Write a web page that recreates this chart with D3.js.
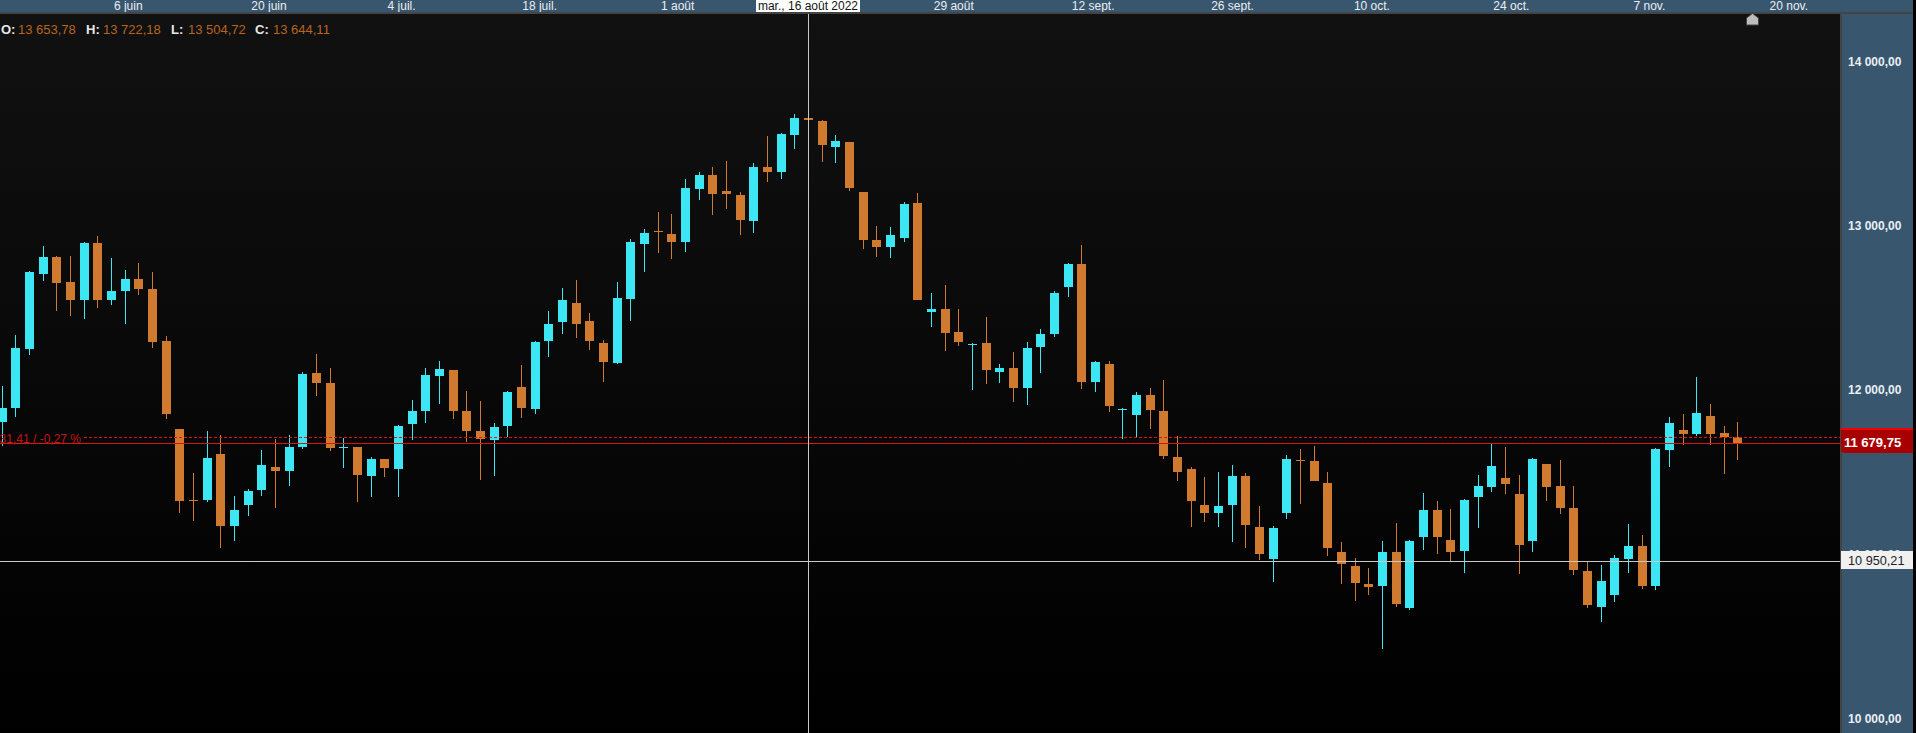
<!DOCTYPE html>
<html>
<head>
<meta charset="utf-8">
<script src="https://cdn.jsdelivr.net/npm/d3@7"></script>
<style>
  html, body { margin: 0; padding: 0; background: #000; overflow: hidden; }
  svg { display: block; }
  text { font-family: "Liberation Sans", Arial, sans-serif; font-size: 12px; }
</style>
</head>
<body>
<div id="chart"></div>
<script>
// daily candles
var opens = [11805,11890,12250,12706,12810,12658,12548,12895,12548,12603,12676,12615,12298,11763,11330,11330,11610,11172,11300,11391,11531,11507,11653,12104,12043,11647,11653,11476,11580,11519,
  11793,11872,12085,12122,11872,11750,11696,11781,12018,11884,12298,12414,12530,12420,12286,12164,12554,12889,12968,12950,12901,13224,13309,13212,13187,13029,13358,13327,13552,13653.78,
  13638,13479,13510,13205,12913,12871,12925,13138,12475,12493,12353,12274,12286,12110,12134,12012,12262,12341,12627,12767,12049,12158,11878,11848,11970,11872,11592,11519,11300,11251,
  11300,11476,11166,10971,11251,11574,11568,11434,11014,10928,10819,10807,11014,10673,11105,11269,11087,11020,11349,11409,11464,11367,11081,11549,11416,11282,10898,10679,10752,10971,
  11050,10807,11635,11756,11732,11842,11738,11711.16];
var highs = [12024,12335,12725,12877,12816,12816,12901,12938,12804,12731,12773,12718,12329,11763,11495,11750,11726,11355,11397,11635,11702,11726,12110,12219,12134,11708,11653,11592,11580,11787,
  11939,12134,12177,12122,11994,11933,11799,11994,12152,12298,12481,12621,12670,12469,12304,12658,12919,12980,13084,13072,13285,13327,13358,13394,13205,13382,13546,13565,13680,13722.18,
  13644,13552,13510,13205,12998,12992,13145,13199,12591,12639,12493,12286,12444,12158,12231,12292,12371,12603,12773,12883,12177,12177,11890,11988,12012,12061,11720,11531,11470,11501,
  11543,11495,11294,11172,11604,11641,11659,11501,11075,10977,10916,11081,11190,11087,11373,11324,11275,11336,11482,11671,11653,11482,11586,11549,11574,11416,10959,10935,10995,11184,
  11117,11647,11836,11854,12079,11915,11781,11805];
var lows = [11659,11836,12213,12664,12481,12451,12432,12499,12518,12402,12578,12256,11823,11251,11202,11318,11038,11081,11233,11355,11282,11416,11641,11963,11629,11525,11318,11349,11470,11349,
  11696,11799,11915,11823,11683,11452,11476,11714,11829,11854,12201,12341,12317,12243,12049,12158,12420,12718,12834,12798,12840,13157,13065,13102,12944,12956,13266,13285,13467,13504.72,
  13388,13382,13212,12858,12810,12804,12901,12548,12384,12237,12268,12000,12037,12043,11927,11909,12104,12323,12566,12006,11988,11866,11702,11714,11763,11580,11446,11166,11196,11166,
  11075,11038,10965,10831,11215,11306,11446,10989,10819,10715,10752,10423,10679,10661,11026,11001,10953,10886,11160,11379,11367,10880,11014,11324,11245,10874,10673,10588,10709,10886,
  10788,10782,11531,11665,11720,11665,11489,11574];
var closes = [11890,12256,12718,12810,12651,12548,12895,12548,12603,12676,12615,12292,11854,11324,11324,11586,11172,11269,11385,11543,11507,11653,12097,12043,11647,11653,11483,11580,11525,11781,
  11872,12091,12128,11872,11750,11702,11775,11988,11890,12292,12402,12548,12402,12298,12170,12560,12901,12956,12962,12901,13230,13309,13193,13193,13035,13358,13327,13559,13656,13644.11,
  13492,13516,13230,12913,12871,12944,13132,12548,12493,12347,12292,12280,12122,12134,12012,12256,12341,12591,12767,12049,12171,11903,11884,11970,11878,11598,11501,11324,11251,11294,
  11476,11178,11001,11160,11580,11568,11446,11038,10941,10825,10801,11014,10697,11081,11269,11105,11014,11330,11415,11537,11428,11056,11580,11409,11282,10904,10691,10837,10977,11050,
  10807,11641,11799,11732,11860,11732,11711.16,11679.75];

var priceTicks = [10000, 11000, 12000, 13000, 14000];
var dateTicks = [9.2, 19.5, 29.2, 39.3, 49.4, 69.6, 79.8, 90, 100.2, 110.4, 120.5, 130.7];
var dateLabels = ["6 juin", "20 juin", "4 juil.", "18 juil.", "1 août", "29 août", "12 sept.", "26 sept.", "10 oct.", "24 oct.", "7 nov.", "20 nov."];
var ohlcLabels = ["O:", "H:", "L:", "C:"];
var ohlcValues = ["13 653,78", "13 722,18", "13 504,72", "13 644,11"];

var lastPrice = 11679.75;
var prevClose = 11711.16;
var crossIndex = 59;
var crossPrice = 10950.21;
var crossDate = "mar., 16 août 2022";
var changeLabel = "-31,41 / -0,27 %";

var width = 1916, height = 733;
var plotRight = 1840, panelRight = 1913, topBar = 12;

var upColor = "#3de6f3", downColor = "#d07a2f";

// french style numbers, 14 000,00
function fmtPrice(v) {
  return d3.format(",.2f")(v).replace(/,/g, " ").replace(".", ",");
}

var x = d3.scaleLinear().domain([0, 127]).range([2.01, 1737.7]);
var y = d3.scaleLinear().domain([10000, 14000]).range([718.5, 61.5]);

var svg = d3.select("#chart").append("svg")
  .attr("width", width)
  .attr("height", height);

var grad = svg.append("defs").append("linearGradient")
  .attr("id", "bg").attr("x1", 0).attr("y1", 0).attr("x2", 0).attr("y2", 1);
grad.append("stop").attr("offset", "0%").attr("stop-color", "#111111");
grad.append("stop").attr("offset", "100%").attr("stop-color", "#000000");

svg.append("rect")
  .attr("x", 0).attr("y", topBar)
  .attr("width", plotRight).attr("height", height - topBar)
  .attr("fill", "url(#bg)");

var plot = svg.append("g");

var idx = d3.range(opens.length);
var candles = plot.selectAll("g.candle").data(idx).enter().append("g").attr("class", "candle");

function colorOf(i) {
  return closes[i] >= opens[i] ? upColor : downColor;
}

candles.append("rect")
  .attr("x", function (i) { return Math.floor(x(i)); })
  .attr("y", function (i) { return Math.round(y(highs[i])); })
  .attr("width", 1)
  .attr("height", function (i) { return Math.max(1, Math.round(y(lows[i])) - Math.round(y(highs[i]))); })
  .attr("fill", colorOf);

candles.append("rect")
  .attr("x", function (i) { return Math.floor(x(i)) - 4; })
  .attr("y", function (i) { return Math.round(y(Math.max(opens[i], closes[i]))); })
  .attr("width", 9)
  .attr("height", function (i) {
    return Math.max(1, Math.round(y(Math.min(opens[i], closes[i]))) - Math.round(y(Math.max(opens[i], closes[i]))));
  })
  .attr("fill", colorOf);

// last price and previous close
plot.append("line")
  .attr("x1", 0).attr("x2", plotRight)
  .attr("y1", Math.round(y(lastPrice)) + 0.5).attr("y2", Math.round(y(lastPrice)) + 0.5)
  .attr("stroke", "#dc1410");
plot.append("line")
  .attr("x1", 84).attr("x2", plotRight)
  .attr("y1", Math.round(y(prevClose)) + 0.5).attr("y2", Math.round(y(prevClose)) + 0.5)
  .attr("stroke", "#dc1410")
  .attr("stroke-dasharray", "3,2");
plot.append("text")
  .attr("x", 81).attr("y", 443)
  .attr("text-anchor", "end")
  .attr("fill", "#c41414")
  .text(changeLabel);

// crosshair
plot.append("line")
  .attr("x1", Math.floor(x(crossIndex)) + 0.5).attr("x2", Math.floor(x(crossIndex)) + 0.5)
  .attr("y1", topBar).attr("y2", height)
  .attr("stroke", "#c8c8c8");
plot.append("line")
  .attr("x1", 0).attr("x2", plotRight)
  .attr("y1", 561.5).attr("y2", 561.5)
  .attr("stroke", "#c8c8c8");

// ohlc readout
var ohlcX = [1, 86, 171, 255];
var ohlcValX = [18, 103, 188, 273];
ohlcLabels.forEach(function (d, i) {
  svg.append("text").attr("x", ohlcX[i]).attr("y", 34)
    .attr("fill", "#e8e8e8").attr("font-weight", "bold").style("font-size", "13px").text(d);
  svg.append("text").attr("x", ohlcValX[i]).attr("y", 34)
    .attr("fill", "#b9651f").style("font-size", "13px").text(ohlcValues[i]);
});

// top axis
svg.append("rect").attr("x", 0).attr("y", 0).attr("width", panelRight).attr("height", topBar).attr("fill", "#38566e");

var xAxis = d3.axisTop(x)
  .tickValues(dateTicks)
  .tickSize(0)
  .tickPadding(0)
  .tickFormat(function (d, i) { return dateLabels[i]; });

var xG = svg.append("g").attr("transform", "translate(0,10)").call(xAxis);
xG.select(".domain").remove();
xG.selectAll("text").attr("fill", "#e9eff3").attr("dy", 0).style("font-size", "12px").style("font-family", '"Liberation Sans", Arial, sans-serif');

svg.append("rect").attr("x", 0).attr("y", topBar).attr("width", panelRight).attr("height", 2).attr("fill", "#444444");

svg.append("rect")
  .attr("x", 756).attr("y", 0).attr("width", 104).attr("height", 12)
  .attr("fill", "#ffffff");
svg.append("text")
  .attr("x", 808).attr("y", 10)
  .attr("text-anchor", "middle")
  .attr("fill", "#111111")
  .text(crossDate);

// right axis
svg.append("rect").attr("x", plotRight).attr("y", topBar + 2).attr("width", panelRight - plotRight).attr("height", height - topBar - 2).attr("fill", "#38566e");
svg.append("rect").attr("x", plotRight).attr("y", topBar + 2).attr("width", 2).attr("height", height - topBar - 2).attr("fill", "#444444");

var yAxis = d3.axisRight(y)
  .tickValues(priceTicks)
  .tickSize(0)
  .tickPadding(0)
  .tickFormat(fmtPrice);

var yG = svg.append("g").attr("transform", "translate(1848,0)").call(yAxis);
yG.select(".domain").remove();
yG.selectAll("text").attr("fill", "#e9eff3").attr("font-weight", "bold").style("font-size", "12px").style("font-family", '"Liberation Sans", Arial, sans-serif');

// price tag on the axis
svg.append("path")
  .attr("d", "M1841,428H1913V453H1845Q1841,453 1841,449Z")
  .attr("fill", "#a80000");
svg.append("rect").attr("x", 1841).attr("y", 428).attr("width", 72).attr("height", 2).attr("fill", "#f00000");
svg.append("text")
  .attr("x", 1844).attr("y", 447)
  .attr("fill", "#ffffff").attr("font-weight", "bold")
  .style("font-size", "13px")
  .text(fmtPrice(lastPrice));

// crosshair price box
svg.append("rect").attr("x", 1841).attr("y", 551).attr("width", 72).attr("height", 18).attr("fill", "#f0f0f0");
svg.append("text")
  .attr("x", 1848).attr("y", 565)
  .attr("fill", "#222222")
  .style("font-size", "12.7px")
  .text(fmtPrice(crossPrice));

// little house marker up top
svg.append("path")
  .attr("d", "M1746.5,25V18L1752.5,13.5L1758.5,18V25Z")
  .attr("fill", "#bdbdbd")
  .attr("stroke", "#444444");
</script>
</body>
</html>
